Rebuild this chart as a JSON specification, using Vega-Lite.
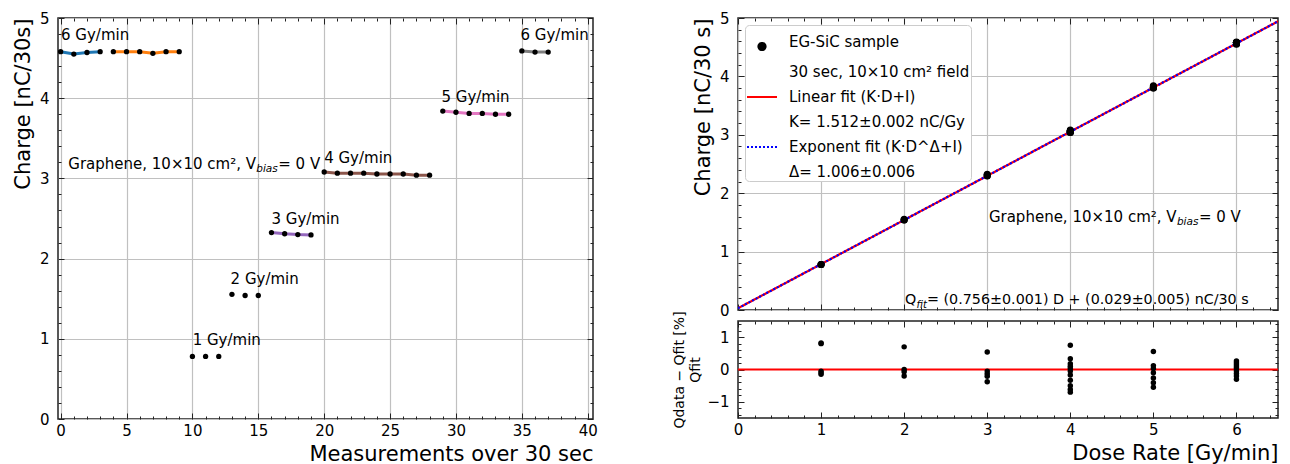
{
  "$schema": "https://vega.github.io/schema/vega-lite/v6.json",
  "padding": {"left": 11, "top": 10, "right": 5, "bottom": 0},
  "config": {
    "font": "DejaVu Sans",
    "view": {"stroke": "#222222", "strokeWidth": 1.5},
    "axis": {
      "labelFont": "DejaVu Sans", "labelFontSize": 15, "labelColor": "black",
      "titleFont": "DejaVu Sans", "titleFontSize": 21, "titleFontWeight": "normal", "titleColor": "black",
      "gridColor": "#c0c0c0", "gridWidth": 1.2, "domain": false,
      "tickColor": "#222222", "tickWidth": 1, "tickSize": 6,
      "labelOverlap": false, "labelFlush": false, "format": "d", "titlePadding": 6
    },
    "axisX": {"labelPadding": -2, "titlePadding": 5},
    "axisY": {"labelPadding": 3},
    "text": {"font": "DejaVu Sans", "color": "black"}
  },
  "datasets": {
    "meas": [
      {"m": 0, "q": 4.58, "grp": "g1", "dose": 6, "src": "EG-SiC sample"}, {"m": 1, "q": 4.55, "grp": "g1", "dose": 6, "src": "EG-SiC sample"}, {"m": 2, "q": 4.57, "grp": "g1", "dose": 6, "src": "EG-SiC sample"}, {"m": 3, "q": 4.58, "grp": "g1", "dose": 6, "src": "EG-SiC sample"},
      {"m": 4, "q": 4.58, "grp": "g2", "dose": 6, "src": "EG-SiC sample"}, {"m": 5, "q": 4.58, "grp": "g2", "dose": 6, "src": "EG-SiC sample"}, {"m": 6, "q": 4.58, "grp": "g2", "dose": 6, "src": "EG-SiC sample"}, {"m": 7, "q": 4.56, "grp": "g2", "dose": 6, "src": "EG-SiC sample"}, {"m": 8, "q": 4.58, "grp": "g2", "dose": 6, "src": "EG-SiC sample"}, {"m": 9, "q": 4.58, "grp": "g2", "dose": 6, "src": "EG-SiC sample"},
      {"m": 10, "q": 0.78, "grp": "g3", "dose": 1, "src": "EG-SiC sample"}, {"m": 11, "q": 0.78, "grp": "g3", "dose": 1, "src": "EG-SiC sample"}, {"m": 12, "q": 0.78, "grp": "g3", "dose": 1, "src": "EG-SiC sample"},
      {"m": 13, "q": 1.555, "grp": "g4", "dose": 2, "src": "EG-SiC sample"}, {"m": 14, "q": 1.54, "grp": "g4", "dose": 2, "src": "EG-SiC sample"}, {"m": 15, "q": 1.54, "grp": "g4", "dose": 2, "src": "EG-SiC sample"},
      {"m": 16, "q": 2.325, "grp": "g5", "dose": 3, "src": "EG-SiC sample"}, {"m": 17, "q": 2.31, "grp": "g5", "dose": 3, "src": "EG-SiC sample"}, {"m": 18, "q": 2.3, "grp": "g5", "dose": 3, "src": "EG-SiC sample"}, {"m": 19, "q": 2.295, "grp": "g5", "dose": 3, "src": "EG-SiC sample"},
      {"m": 20, "q": 3.08, "grp": "g6", "dose": 4, "src": "EG-SiC sample"}, {"m": 21, "q": 3.065, "grp": "g6", "dose": 4, "src": "EG-SiC sample"}, {"m": 22, "q": 3.065, "grp": "g6", "dose": 4, "src": "EG-SiC sample"}, {"m": 23, "q": 3.065, "grp": "g6", "dose": 4, "src": "EG-SiC sample"}, {"m": 24, "q": 3.055, "grp": "g6", "dose": 4, "src": "EG-SiC sample"}, {"m": 25, "q": 3.055, "grp": "g6", "dose": 4, "src": "EG-SiC sample"}, {"m": 26, "q": 3.055, "grp": "g6", "dose": 4, "src": "EG-SiC sample"}, {"m": 27, "q": 3.04, "grp": "g6", "dose": 4, "src": "EG-SiC sample"}, {"m": 28, "q": 3.04, "grp": "g6", "dose": 4, "src": "EG-SiC sample"},
      {"m": 29, "q": 3.84, "grp": "g7", "dose": 5, "src": "EG-SiC sample"}, {"m": 30, "q": 3.825, "grp": "g7", "dose": 5, "src": "EG-SiC sample"}, {"m": 31, "q": 3.81, "grp": "g7", "dose": 5, "src": "EG-SiC sample"}, {"m": 32, "q": 3.81, "grp": "g7", "dose": 5, "src": "EG-SiC sample"}, {"m": 33, "q": 3.8, "grp": "g7", "dose": 5, "src": "EG-SiC sample"}, {"m": 34, "q": 3.8, "grp": "g7", "dose": 5, "src": "EG-SiC sample"},
      {"m": 35, "q": 4.59, "grp": "g8", "dose": 6, "src": "EG-SiC sample"}, {"m": 36, "q": 4.575, "grp": "g8", "dose": 6, "src": "EG-SiC sample"}, {"m": 37, "q": 4.575, "grp": "g8", "dose": 6, "src": "EG-SiC sample"}
    ],
    "leftLabels": [
      {"x": 0.03, "y": 4.79, "label": "6 Gy/min"}, {"x": 10.02, "y": 0.99, "label": "1 Gy/min"}, {"x": 12.9, "y": 1.75, "label": "2 Gy/min"},
      {"x": 16.0, "y": 2.5, "label": "3 Gy/min"}, {"x": 20.0, "y": 3.25, "label": "4 Gy/min"}, {"x": 28.9, "y": 4.01, "label": "5 Gy/min"}, {"x": 34.9, "y": 4.79, "label": "6 Gy/min"}
    ],
    "noteL": [{"x": 0.58, "y": 3.18, "a": "Graphene, 10×10 cm², V", "b": "bias", "c": "= 0 V"}],
    "noteRG": [{"x": 3.02, "y": 1.6, "a": "Graphene, 10×10 cm², V", "b": "bias", "c": "= 0 V"}],
    "noteRQ": [{"x": 2.01, "y": 0.178, "a": "Q", "b": "fit", "c": "= (0.756±0.001) D + (0.029±0.005) nC/30 s"}],
    "fits": [
      {"dose": 0, "q": 0.03, "series": "Linear fit (K·D+I)"}, {"dose": 6.5, "q": 4.943, "series": "Linear fit (K·D+I)"},
      {"dose": 0, "q": 0.03, "series": "Exponent fit (K·D^Δ+I)"}, {"dose": 6.5, "q": 4.943, "series": "Exponent fit (K·D^Δ+I)"}
    ],
    "zero": [{"dose": 0, "res": 0}, {"dose": 6.5, "res": 0}],
    "resid": [
      {"dose": 1, "res": 0.82}, {"dose": 1, "res": 0.8}, {"dose": 1, "res": -0.05}, {"dose": 1, "res": -0.1}, {"dose": 1, "res": -0.15},
      {"dose": 2, "res": 0.7}, {"dose": 2, "res": 0.0}, {"dose": 2, "res": -0.07}, {"dose": 2, "res": -0.2},
      {"dose": 3, "res": 0.54}, {"dose": 3, "res": -0.05}, {"dose": 3, "res": -0.13}, {"dose": 3, "res": -0.21}, {"dose": 3, "res": -0.38},
      {"dose": 4, "res": 0.75}, {"dose": 4, "res": 0.33}, {"dose": 4, "res": 0.18}, {"dose": 4, "res": 0.1}, {"dose": 4, "res": 0.03}, {"dose": 4, "res": -0.05}, {"dose": 4, "res": -0.17}, {"dose": 4, "res": -0.33}, {"dose": 4, "res": -0.5}, {"dose": 4, "res": -0.62}, {"dose": 4, "res": -0.7},
      {"dose": 5, "res": 0.56}, {"dose": 5, "res": 0.12}, {"dose": 5, "res": 0.03}, {"dose": 5, "res": -0.1}, {"dose": 5, "res": -0.26}, {"dose": 5, "res": -0.41}, {"dose": 5, "res": -0.55},
      {"dose": 6, "res": 0.26}, {"dose": 6, "res": 0.2}, {"dose": 6, "res": 0.14}, {"dose": 6, "res": 0.08}, {"dose": 6, "res": 0.02}, {"dose": 6, "res": -0.05}, {"dose": 6, "res": -0.12}, {"dose": 6, "res": -0.2}, {"dose": 6, "res": -0.3}
    ]
  },
  "hconcat": [
    {
      "width": 535, "height": 401,
      "layer": [
        {
          "data": {"name": "meas"},
          "transform": [{"filter": "datum.grp != 'g3' && datum.grp != 'g4'"}],
          "mark": {"type": "line", "clip": true},
          "encoding": {
            "x": {"field": "m", "type": "quantitative", "scale": {"domain": [-0.2, 40.4], "nice": false, "zero": false},
              "axis": {"orient": "bottom", "values": [0,1,2,3,4,5,6,7,8,9,10,11,12,13,14,15,16,17,18,19,20,21,22,23,24,25,26,27,28,29,30,31,32,33,34,35,36,37,38,39,40],
                "labelExpr": "datum.value % 5 === 0 ? datum.label : ''",
                "gridOpacity": {"condition": {"test": "datum.value % 5 === 0", "value": 1}, "value": 0},
                "title": "Measurements over 30 sec", "titleAnchor": "end",
                "encoding": {"ticks": {"y2": {"value": {"expr": "datum.value % 5 === 0 ? -6 : -3"}}}}}},
            "y": {"field": "q", "type": "quantitative", "scale": {"domain": [0, 5], "nice": false, "zero": false},
              "axis": {"orient": "left", "values": [0,0.2,0.4,0.6,0.8,1,1.2,1.4,1.6,1.8,2,2.2,2.4,2.6,2.8,3,3.2,3.4,3.6,3.8,4,4.2,4.4,4.6,4.8,5],
                "labelExpr": "abs(datum.value - round(datum.value)) < 0.001 ? datum.label : ''",
                "gridOpacity": {"condition": {"test": "abs(datum.value - round(datum.value)) < 0.001", "value": 1}, "value": 0},
                "title": "Charge [nC/30s]", "titleAnchor": "end",
                "encoding": {"ticks": {"x2": {"value": {"expr": "abs(datum.value - round(datum.value)) < 0.001 ? 6 : 3"}}}}}},
            "color": {"field": "grp", "type": "nominal", "scale": {"domain": ["g1","g2","g5","g6","g7","g8"], "range": ["#1f77b4","#ff7f0e","#9467bd","#8c564b","#e377c2","#7f7f7f"]}, "legend": null},
            "strokeWidth": {"field": "grp", "type": "ordinal", "scale": {"domain": ["g1","g2","g5","g6","g7","g8"], "range": [3,3,1.5,3.5,3,1.5]}, "legend": null}
          }
        },
        {
          "data": {"name": "meas"},
          "mark": {"type": "point", "filled": true, "size": 28, "color": "black", "opacity": 1},
          "encoding": {
            "x": {"field": "m", "type": "quantitative",
              "axis": {"orient": "top", "values": [0,1,2,3,4,5,6,7,8,9,10,11,12,13,14,15,16,17,18,19,20,21,22,23,24,25,26,27,28,29,30,31,32,33,34,35,36,37,38,39,40],
                "labels": false, "grid": false, "title": null,
                "encoding": {"ticks": {"y2": {"value": {"expr": "datum.value % 5 === 0 ? 6 : 3"}}}}}},
            "y": {"field": "q", "type": "quantitative",
              "axis": {"orient": "right", "values": [0,0.2,0.4,0.6,0.8,1,1.2,1.4,1.6,1.8,2,2.2,2.4,2.6,2.8,3,3.2,3.4,3.6,3.8,4,4.2,4.4,4.6,4.8,5],
                "labels": false, "grid": false, "title": null,
                "encoding": {"ticks": {"x2": {"value": {"expr": "abs(datum.value - round(datum.value)) < 0.001 ? -6 : -3"}}}}}}
          }
        },
        {
          "data": {"name": "leftLabels"},
          "mark": {"type": "text", "align": "left", "baseline": "middle", "fontSize": 15},
          "encoding": {"x": {"field": "x", "type": "quantitative", "axis": null}, "y": {"field": "y", "type": "quantitative", "axis": null}, "text": {"field": "label"}}
        },
        {
          "data": {"name": "noteL"},
          "mark": {"type": "text", "align": "left", "baseline": "middle", "fontSize": 15},
          "encoding": {"x": {"field": "x", "type": "quantitative", "axis": null}, "y": {"field": "y", "type": "quantitative", "axis": null}, "text": {"field": "a"}}
        },
        {
          "data": {"name": "noteL"},
          "mark": {"type": "text", "align": "left", "baseline": "middle", "fontSize": 10.5, "fontStyle": "italic", "dx": 188, "dy": 5},
          "encoding": {"x": {"field": "x", "type": "quantitative", "axis": null}, "y": {"field": "y", "type": "quantitative", "axis": null}, "text": {"field": "b"}}
        },
        {
          "data": {"name": "noteL"},
          "mark": {"type": "text", "align": "left", "baseline": "middle", "fontSize": 15, "dx": 210},
          "encoding": {"x": {"field": "x", "type": "quantitative", "axis": null}, "y": {"field": "y", "type": "quantitative", "axis": null}, "text": {"field": "c"}}
        }
      ],
      "resolve": {"axis": {"x": "independent", "y": "independent"}}
    },
    {
      "spacing": 11,
      "bounds": "flush",
      "resolve": {"scale": {"color": "independent", "strokeDash": "independent"}, "legend": {"color": "independent"}},
      "vconcat": [
        {
          "width": 540, "height": 292,
          "layer": [
            {
              "data": {"name": "fits"},
              "mark": {"type": "line", "clip": true},
              "encoding": {
                "x": {"field": "dose", "type": "quantitative", "scale": {"domain": [0, 6.5], "nice": false, "zero": false},
                  "axis": {"orient": "bottom", "values": [0,0.2,0.4,0.6,0.8,1,1.2,1.4,1.6,1.8,2,2.2,2.4,2.6,2.8,3,3.2,3.4,3.6,3.8,4,4.2,4.4,4.6,4.8,5,5.2,5.4,5.6,5.8,6,6.2,6.4],
                    "labels": false, "title": null,
                    "gridOpacity": {"condition": {"test": "abs(datum.value - round(datum.value)) < 0.001", "value": 1}, "value": 0},
                    "encoding": {"ticks": {"y2": {"value": {"expr": "abs(datum.value - round(datum.value)) < 0.001 ? -6 : -3"}}}}}},
                "y": {"field": "q", "type": "quantitative", "scale": {"domain": [0, 5], "nice": false, "zero": false},
                  "axis": {"orient": "left", "values": [0,0.2,0.4,0.6,0.8,1,1.2,1.4,1.6,1.8,2,2.2,2.4,2.6,2.8,3,3.2,3.4,3.6,3.8,4,4.2,4.4,4.6,4.8,5],
                    "labelExpr": "abs(datum.value - round(datum.value)) < 0.001 ? datum.label : ''",
                    "gridOpacity": {"condition": {"test": "abs(datum.value - round(datum.value)) < 0.001", "value": 1}, "value": 0},
                    "title": "Charge [nC/30 s]", "titleAnchor": "end",
                    "encoding": {"ticks": {"x2": {"value": {"expr": "abs(datum.value - round(datum.value)) < 0.001 ? 6 : 3"}}}}}},
                "color": {"field": "series", "type": "nominal",
                  "scale": {"domain": ["EG-SiC sample", "30 sec, 10×10 cm² field", "Linear fit (K·D+I)", "K= 1.512±0.002 nC/Gy", "Exponent fit (K·D^Δ+I)", "Δ= 1.006±0.006"], "range": ["black", "transparent", "red", "transparent", "blue", "transparent"]},
                  "legend": {
                    "orient": "top-left", "offset": 7, "title": null,
                    "fillColor": "white", "strokeColor": "#cccccc", "cornerRadius": 4, "padding": 1,
                    "labelFontSize": 15, "labelFont": "DejaVu Sans", "labelColor": "black", "labelLimit": 400,
                    "symbolSize": 900, "symbolStrokeWidth": 2, "labelOffset": 11, "rowPadding": 1,
                    "encoding": {
                      "symbols": {
                        "shape": {"value": {"expr": "datum.value === 'EG-SiC sample' ? 'M -0.24,0.3 A 0.24,0.24 0 1,0 0.24,0.3 A 0.24,0.24 0 1,0 -0.24,0.3 Z' : 'stroke'"}},
                        "fill": {"value": {"expr": "datum.value === 'EG-SiC sample' ? 'black' : 'transparent'"}},
                        "stroke": {"value": {"expr": "indexof(datum.value, 'Linear') === 0 ? 'red' : (indexof(datum.value, 'Exponent') === 0 ? 'blue' : 'transparent')"}},
                        "strokeDash": {"value": {"expr": "indexof(datum.value, 'Exponent') === 0 ? [2, 2] : [1, 0]"}},
                        "opacity": {"value": 1}
                      }
                    }
                  }},
                "strokeDash": {"field": "series", "type": "nominal", "scale": {"domain": ["Linear fit (K·D+I)", "Exponent fit (K·D^Δ+I)"], "range": [[1, 0], [2, 2]]}, "legend": null},
                "strokeWidth": {"value": 2.2}
              }
            },
            {
              "data": {"name": "meas"},
              "mark": {"type": "point", "filled": true, "size": 50, "opacity": 1},
              "encoding": {
                "x": {"field": "dose", "type": "quantitative",
                  "axis": {"orient": "top", "values": [0,0.2,0.4,0.6,0.8,1,1.2,1.4,1.6,1.8,2,2.2,2.4,2.6,2.8,3,3.2,3.4,3.6,3.8,4,4.2,4.4,4.6,4.8,5,5.2,5.4,5.6,5.8,6,6.2,6.4],
                    "labels": false, "grid": false, "title": null,
                    "encoding": {"ticks": {"y2": {"value": {"expr": "abs(datum.value - round(datum.value)) < 0.001 ? 6 : 3"}}}}}},
                "y": {"field": "q", "type": "quantitative",
                  "axis": {"orient": "right", "values": [0,0.2,0.4,0.6,0.8,1,1.2,1.4,1.6,1.8,2,2.2,2.4,2.6,2.8,3,3.2,3.4,3.6,3.8,4,4.2,4.4,4.6,4.8,5],
                    "labels": false, "grid": false, "title": null,
                    "encoding": {"ticks": {"x2": {"value": {"expr": "abs(datum.value - round(datum.value)) < 0.001 ? -6 : -3"}}}}}},
                "color": {"field": "src", "type": "nominal"}
              }
            },
            {
              "data": {"name": "noteRG"},
              "mark": {"type": "text", "align": "left", "baseline": "middle", "fontSize": 15},
              "encoding": {"x": {"field": "x", "type": "quantitative", "axis": null}, "y": {"field": "y", "type": "quantitative", "axis": null}, "text": {"field": "a"}}
            },
            {
              "data": {"name": "noteRG"},
              "mark": {"type": "text", "align": "left", "baseline": "middle", "fontSize": 10.5, "fontStyle": "italic", "dx": 188, "dy": 5},
              "encoding": {"x": {"field": "x", "type": "quantitative", "axis": null}, "y": {"field": "y", "type": "quantitative", "axis": null}, "text": {"field": "b"}}
            },
            {
              "data": {"name": "noteRG"},
              "mark": {"type": "text", "align": "left", "baseline": "middle", "fontSize": 15, "dx": 210},
              "encoding": {"x": {"field": "x", "type": "quantitative", "axis": null}, "y": {"field": "y", "type": "quantitative", "axis": null}, "text": {"field": "c"}}
            },
            {
              "data": {"name": "noteRQ"},
              "mark": {"type": "text", "align": "left", "baseline": "middle", "fontSize": 14.3},
              "encoding": {"x": {"field": "x", "type": "quantitative", "axis": null}, "y": {"field": "y", "type": "quantitative", "axis": null}, "text": {"field": "a"}}
            },
            {
              "data": {"name": "noteRQ"},
              "mark": {"type": "text", "align": "left", "baseline": "middle", "fontSize": 10, "fontStyle": "italic", "dx": 11.5, "dy": 5},
              "encoding": {"x": {"field": "x", "type": "quantitative", "axis": null}, "y": {"field": "y", "type": "quantitative", "axis": null}, "text": {"field": "b"}}
            },
            {
              "data": {"name": "noteRQ"},
              "mark": {"type": "text", "align": "left", "baseline": "middle", "fontSize": 14.3, "dx": 22},
              "encoding": {"x": {"field": "x", "type": "quantitative", "axis": null}, "y": {"field": "y", "type": "quantitative", "axis": null}, "text": {"field": "c"}}
            }
          ],
          "resolve": {"axis": {"x": "independent", "y": "independent"}}
        },
        {
          "width": 540, "height": 97,
          "layer": [
            {
              "data": {"name": "zero"},
              "mark": {"type": "line", "color": "red", "strokeWidth": 2, "clip": true},
              "encoding": {
                "x": {"field": "dose", "type": "quantitative", "scale": {"domain": [0, 6.5], "nice": false, "zero": false},
                  "axis": {"orient": "top", "values": [0,0.2,0.4,0.6,0.8,1,1.2,1.4,1.6,1.8,2,2.2,2.4,2.6,2.8,3,3.2,3.4,3.6,3.8,4,4.2,4.4,4.6,4.8,5,5.2,5.4,5.6,5.8,6,6.2,6.4],
                    "labels": false, "grid": false, "title": null,
                    "encoding": {"ticks": {"y2": {"value": {"expr": "abs(datum.value - round(datum.value)) < 0.001 ? 6 : 3"}}}}}},
                "y": {"field": "res", "type": "quantitative", "scale": {"domain": [-1.5, 1.5], "nice": false, "zero": false},
                  "axis": {"orient": "right", "values": [-1.4,-1.2,-1,-0.8,-0.6,-0.4,-0.2,0,0.2,0.4,0.6,0.8,1,1.2,1.4],
                    "labels": false, "grid": false, "title": null,
                    "encoding": {"ticks": {"x2": {"value": {"expr": "abs(datum.value - round(datum.value)) < 0.001 ? -6 : -3"}}}}}}
              }
            },
            {
              "data": {"name": "resid"},
              "mark": {"type": "point", "filled": true, "size": 30, "color": "black", "opacity": 1},
              "encoding": {
                "x": {"field": "dose", "type": "quantitative",
                  "axis": {"orient": "bottom", "values": [0,0.2,0.4,0.6,0.8,1,1.2,1.4,1.6,1.8,2,2.2,2.4,2.6,2.8,3,3.2,3.4,3.6,3.8,4,4.2,4.4,4.6,4.8,5,5.2,5.4,5.6,5.8,6,6.2,6.4],
                    "labelExpr": "abs(datum.value - round(datum.value)) < 0.001 ? datum.label : ''",
                    "gridOpacity": {"condition": {"test": "abs(datum.value - round(datum.value)) < 0.001", "value": 1}, "value": 0},
                    "title": "Dose Rate [Gy/min]", "titleAnchor": "end",
                    "encoding": {"ticks": {"y2": {"value": {"expr": "abs(datum.value - round(datum.value)) < 0.001 ? -6 : -3"}}}}}},
                "y": {"field": "res", "type": "quantitative",
                  "axis": {"orient": "left", "values": [-1.4,-1.2,-1,-0.8,-0.6,-0.4,-0.2,0,0.2,0.4,0.6,0.8,1,1.2,1.4],
                    "labelExpr": "abs(datum.value - round(datum.value)) < 0.001 ? datum.label : ''",
                    "gridOpacity": {"condition": {"test": "abs(datum.value - round(datum.value)) < 0.001", "value": 1}, "value": 0},
                    "title": ["Qdata − Qfit   [%]", "Qfit"], "titleFontSize": 14, "titleAnchor": "middle", "titlePadding": 4,
                    "encoding": {"ticks": {"x2": {"value": {"expr": "abs(datum.value - round(datum.value)) < 0.001 ? 6 : 3"}}}}}}
              }
            }
          ],
          "resolve": {"axis": {"x": "independent", "y": "independent"}}
        }
      ]
    }
  ],
  "spacing": 73,
  "resolve": {"scale": {"color": "independent", "strokeWidth": "independent", "strokeDash": "independent"}, "legend": {"color": "independent"}}
}
